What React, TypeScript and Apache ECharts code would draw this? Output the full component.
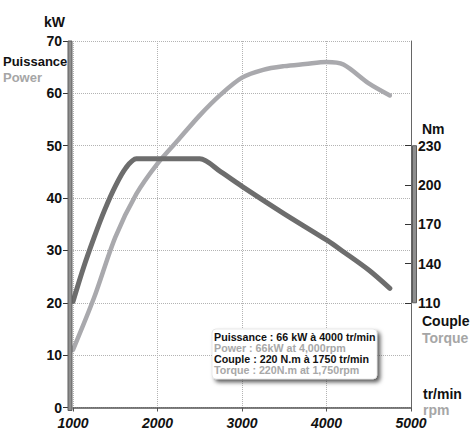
import React, { useEffect, useRef } from "react";
import * as echarts from "echarts";

// Engine speed (tr/min) and measured curves
const powerRpm = [1000, 1250, 1500, 1750, 2000, 2250, 2500, 2750, 3000, 3250, 3500, 3750, 4000, 4200, 4500, 4750];
const powerKw = [11, 21, 32.5, 40.8, 46.6, 51.2, 55.8, 59.8, 63, 64.5, 65.2, 65.6, 66, 65.5, 61.9, 59.6];

const torqueRpm = [1000, 1125, 1250, 1375, 1500, 1625, 1750, 2000, 2250, 2500, 2750, 3000, 3500, 4000, 4200, 4500, 4750];
const torqueNm = [111, 137, 160, 181, 199, 213, 220, 220, 220, 220, 210, 199, 178, 158, 149, 135, 121];

const torqueTicks = [110, 140, 170, 200, 230];

const noteLines = [
  { text: "Puissance : 66 kW à 4000 tr/min", color: "#111111" },
  { text: "Power : 66kW at 4,000rpm", color: "#a8a8a8" },
  { text: "Couple : 220 N.m à 1750 tr/min", color: "#111111" },
  { text: "Torque : 220N.m at 1,750rpm", color: "#a8a8a8" },
];

const FONT = "'Liberation Sans', Arial, sans-serif";
const DARK = "#111111";
const LIGHT = "#a6a6a6";
const POWER_COLOR = "#a9a9ad";
const TORQUE_COLOR = "#6d6d6d";

export default function App() {
  const ref = useRef<HTMLDivElement>(null);

  useEffect(() => {
    if (!ref.current) return;
    const chart = echarts.init(ref.current, null, { renderer: "svg" });

    const dotted = { type: "dotted" as const, color: "#b3b3b3", width: 1 };

    chart.setOption({
      animation: false,
      backgroundColor: "#ffffff",
      grid: { left: 73, right: 63, top: 41, bottom: 26.5, containLabel: false },
      xAxis: {
        type: "value",
        min: 1000,
        max: 5000,
        interval: 1000,
        axisLine: { show: true, lineStyle: { color: "#555555", width: 1.5 } },
        axisTick: { show: true, length: 4, lineStyle: { color: "#555555" } },
        axisLabel: {
          margin: 8,
          color: DARK,
          fontFamily: FONT,
          fontWeight: "bold",
          fontStyle: "italic",
          fontSize: 14,
          formatter: (v: number) => String(v),
        },
        splitLine: { show: true, lineStyle: dotted },
      },
      yAxis: [
        {
          type: "value",
          min: 0,
          max: 70,
          interval: 10,
          position: "left",
          offset: 3,
          axisLine: { show: false },
          axisTick: { show: true, length: 7, lineStyle: { color: "#333333" } },
          axisLabel: {
            margin: 8,
            color: DARK,
            fontFamily: FONT,
            fontWeight: "bold",
            fontSize: 14,
          },
          splitLine: { show: true, lineStyle: dotted },
        },
        {
          type: "value",
          min: 30,
          max: 310,
          position: "right",
          axisLine: { show: true, lineStyle: { color: "#666666", width: 1 } },
          axisTick: {
            show: true,
            inside: true,
            length: 6,
            customValues: torqueTicks,
            lineStyle: { color: "#333333" },
          },
          axisLabel: {
            margin: 7,
            customValues: torqueTicks,
            color: DARK,
            fontFamily: FONT,
            fontWeight: "bold",
            fontSize: 14,
          },
          splitLine: { show: false },
        },
      ],
      series: [
        {
          name: "Power",
          type: "line",
          yAxisIndex: 0,
          data: powerRpm.map((r, i) => [r, powerKw[i]]),
          smooth: 0.3,
          showSymbol: false,
          lineStyle: { color: POWER_COLOR, width: 4.5, cap: "round", join: "round" },
          z: 3,
        },
        {
          name: "Torque",
          type: "line",
          yAxisIndex: 1,
          data: torqueRpm.map((r, i) => [r, torqueNm[i]]),
          smooth: 0.3,
          showSymbol: false,
          lineStyle: { color: TORQUE_COLOR, width: 5, cap: "round", join: "round" },
          z: 4,
        },
      ],
    });

    // Axis bars placed through the chart's own scales
    const xLeft = chart.convertToPixel({ xAxisIndex: 0 }, 1000) as number;
    const xRight = chart.convertToPixel({ xAxisIndex: 0 }, 5000) as number;
    const yTop = chart.convertToPixel({ yAxisIndex: 0 }, 70) as number;
    const yBottom = chart.convertToPixel({ yAxisIndex: 0 }, 0) as number;
    const yT230 = chart.convertToPixel({ yAxisIndex: 1 }, 230) as number;
    const yT110 = chart.convertToPixel({ yAxisIndex: 1 }, 110) as number;

    const boxX = 212;
    const boxY = 329;

    chart.setOption({
      graphic: [
        {
          type: "rect",
          shape: { x: xLeft - 5, y: yTop, width: 4, height: yBottom - yTop + 3 },
          style: { fill: "#8e8e8e", stroke: "#5c5c5c", lineWidth: 1 },
          z: 10,
        },
        {
          type: "rect",
          shape: { x: xRight + 1.5, y: yT230, width: 4, height: yT110 - yT230 },
          style: { fill: "#8e8e8e", stroke: "#5c5c5c", lineWidth: 1 },
          z: 10,
        },
        // Left axis titles
        {
          type: "text",
          x: 65,
          y: 21.5,
          style: { text: "kW", fill: DARK, font: `bold 14px ${FONT}`, align: "right", verticalAlign: "middle" },
        },
        {
          type: "text",
          x: 3,
          y: 61,
          style: { text: "Puissance", fill: DARK, font: `bold 13px ${FONT}`, align: "left", verticalAlign: "middle" },
        },
        {
          type: "text",
          x: 3,
          y: 77,
          style: { text: "Power", fill: LIGHT, font: `bold 13px ${FONT}`, align: "left", verticalAlign: "middle" },
        },
        // Right axis titles
        {
          type: "text",
          x: 422,
          y: 128.5,
          style: { text: "Nm", fill: DARK, font: `bold 14px ${FONT}`, align: "left", verticalAlign: "middle" },
        },
        {
          type: "text",
          x: 422,
          y: 321,
          style: { text: "Couple", fill: DARK, font: `bold 14px ${FONT}`, align: "left", verticalAlign: "middle" },
        },
        {
          type: "text",
          x: 422,
          y: 338,
          style: { text: "Torque", fill: LIGHT, font: `bold 14px ${FONT}`, align: "left", verticalAlign: "middle" },
        },
        {
          type: "text",
          x: 423,
          y: 394,
          style: { text: "tr/min", fill: DARK, font: `bold 14px ${FONT}`, align: "left", verticalAlign: "middle" },
        },
        {
          type: "text",
          x: 423,
          y: 410,
          style: { text: "rpm", fill: LIGHT, font: `bold 14px ${FONT}`, align: "left", verticalAlign: "middle" },
        },
        // Summary box
        {
          type: "group",
          x: boxX,
          y: boxY,
          z: 20,
          children: [
            {
              type: "rect",
              shape: { x: 0, y: 0, width: 165, height: 50, r: 4 },
              style: {
                fill: "#ffffff",
                stroke: "#d0d0d0",
                lineWidth: 0.5,
                shadowColor: "rgba(0,0,0,0.65)",
                shadowBlur: 4,
                shadowOffsetX: 3,
                shadowOffsetY: 3,
              },
            },
            ...noteLines.map((line, i) => ({
              type: "text",
              x: 2,
              y: 8 + i * 11,
              style: {
                text: line.text,
                fill: line.color,
                font: `bold 10.7px ${FONT}`,
                align: "left",
                verticalAlign: "middle",
              },
            })),
          ],
        },
      ],
    });

    return () => chart.dispose();
  }, []);

  return (
    <div
      ref={ref}
      style={{ position: "fixed", left: 0, top: 0, width: 474, height: 434, background: "#fff" }}
    />
  );
}
